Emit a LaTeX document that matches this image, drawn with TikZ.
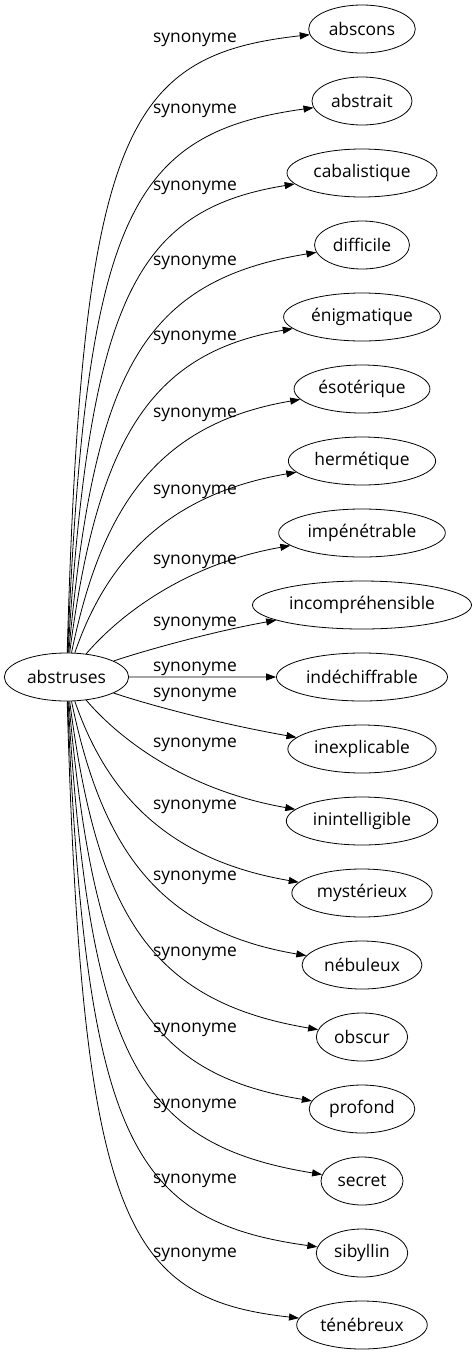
\documentclass[tikz,border=0pt]{standalone}
\usepackage{fontspec}
\setmainfont{Open Sans}
\usepackage{tikz}
\usetikzlibrary{shapes,arrows.meta,positioning}
\tikzstyle{word} = [ellipse, draw=black, line width=0.8pt, inner xsep=4.5pt, inner ysep=2pt, minimum height=48pt, font=\fontsize{17.4}{20}\selectfont]
\tikzstyle{textonly} = [draw=none, fill=none, inner sep=0pt, text centered, font=\fontsize{17.4}{20}\selectfont]
\tikzstyle{tedge}  = [draw, line width=0.8pt, >={Triangle[length=10pt,width=7pt]}, ->]

\begin{document}
\begin{tikzpicture}[x=1pt, y=1pt]
\useasboundingbox (0,0) rectangle (473,-1355);

% words =============================
\node[word] (abstruses) at (66.5,-677) {abstruses};
\node[word] (abscons) at (362,-29) {abscons};
\node[word, below=23.2pt of abscons] (abstrait) {abstrait};
\node[word, below=23.2pt of abstrait] (cabalistique) {cabalistique};
\node[word, below=23.2pt of cabalistique] (difficile) {difficile};
\node[word, below=23.2pt of difficile] (enigmatique) {énigmatique};
\node[word, below=23.2pt of enigmatique] (esoterique) {ésotérique};
\node[word, below=23.2pt of esoterique] (hermetique) {hermétique};
\node[word, below=23.2pt of hermetique] (impenetrable) {impénétrable};
\node[word, below=23.2pt of impenetrable] (incomprehensible) {incompréhensible};
\node[word, below=23.2pt of incomprehensible] (indechiffrable) {indéchiffrable};
\node[word, below=23.2pt of indechiffrable] (inexplicable) {inexplicable};
\node[word, below=23.2pt of inexplicable] (inintelligible) {inintelligible};
\node[word, below=23.2pt of inintelligible] (mysterieux) {mystérieux};
\node[word, below=23.2pt of mysterieux] (nebuleux) {nébuleux};
\node[word, below=23.2pt of nebuleux] (obscur) {obscur};
\node[word, below=23.2pt of obscur] (profond) {profond};
\node[word, below=23.2pt of profond] (secret) {secret};
\node[word, below=23.2pt of secret] (sibyllin) {sibyllin};
\node[word, below=23.2pt of sibyllin] (tenebreux) {ténébreux};

% labels
\node[textonly] (syn1) at (195,-40) {synonyme};
\node[textonly] (syn2) at (195,-111) {synonyme};
\node[textonly] (syn3) at (195,-188) {synonyme};
\node[textonly] (syn4) at (195,-263) {synonyme};
\node[textonly] (syn5) at (195,-338) {synonyme};
\node[textonly] (syn6) at (195,-415) {synonyme};
\node[textonly] (syn7) at (195,-492) {synonyme};
\node[textonly] (syn8) at (195,-562) {synonyme};
\node[textonly] (syn9) at (195,-624) {synonyme};
\node[textonly] (syn10) at (195,-669) {synonyme};
\node[textonly] (syn11) at (195,-695) {synonyme};
\node[textonly] (syn12) at (195,-745) {synonyme};
\node[textonly] (syn13) at (195,-807) {synonyme};
\node[textonly] (syn14) at (195,-878) {synonyme};
\node[textonly] (syn15) at (195,-954) {synonyme};
\node[textonly] (syn16) at (195,-1030) {synonyme};
\node[textonly] (syn17) at (195,-1106) {synonyme};
\node[textonly] (syn18) at (195,-1181) {synonyme};
\node[textonly] (syn19) at (195,-1255) {synonyme};

% edges
\path[tedge] (abstruses) .. controls (82,-133) and (125,-55) .. (abscons);
\path[tedge] (abstruses) .. controls (86,-216) and (130,-133) .. (abstrait);
\path[tedge] (abstruses) .. controls (90,-300) and (135,-210) .. (cabalistique);
\path[tedge] (abstruses) .. controls (94,-375) and (140,-281) .. (difficile);
\path[tedge] (abstruses) .. controls (97,-443) and (148,-353) .. (enigmatique);
\path[tedge] (abstruses) .. controls (101,-510) and (155,-424) .. (esoterique);
\path[tedge] (abstruses) .. controls (105,-565) and (163,-495) .. (hermetique);
\path[tedge] (abstruses) .. controls (115,-620) and (180,-565) .. (impenetrable);
\path[tedge] (abstruses) .. controls (140,-652) and (210,-632) .. (incomprehensible);
\path[tedge] (abstruses) -- (indechiffrable);
\path[tedge] (abstruses) .. controls (140,-702) and (210,-722) .. (inexplicable);
\path[tedge] (abstruses) .. controls (115,-734) and (180,-789) .. (inintelligible);
\path[tedge] (abstruses) .. controls (105,-789) and (163,-859) .. (mysterieux);
\path[tedge] (abstruses) .. controls (101,-844) and (155,-930) .. (nebuleux);
\path[tedge] (abstruses) .. controls (97,-911) and (148,-1001) .. (obscur);
\path[tedge] (abstruses) .. controls (94,-979) and (140,-1073) .. (profond);
\path[tedge] (abstruses) .. controls (90,-1054) and (135,-1144) .. (secret);
\path[tedge] (abstruses) .. controls (86,-1138) and (130,-1221) .. (sibyllin);
\path[tedge] (abstruses) .. controls (82,-1221) and (125,-1299) .. (tenebreux);

\end{tikzpicture}
\end{document}
